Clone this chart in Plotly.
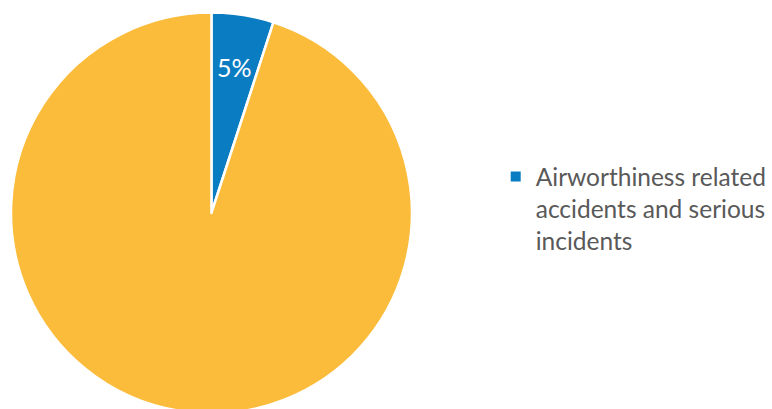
import math
import plotly.graph_objects as go

labels = ["Airworthiness related accidents and serious incidents", "Other accidents and serious incidents"]
values = [5, 95]
colors = ["#0A7CC1", "#FBBC3B"]
legend_label = "Airworthiness related<br>accidents and serious<br>incidents"

W, H = 772, 416
FONT = "Lato, 'Open Sans', sans-serif"

# pie domain (paper fractions)
dx = [11 / W, 413 / W]
dy = [2 / H, 1 - 12 / H]

fig = go.Figure()
fig.add_trace(go.Pie(
    labels=labels,
    values=values,
    sort=False,
    direction="clockwise",
    rotation=0,
    marker=dict(colors=colors, line=dict(color="white", width=2.5)),
    textinfo="none",
    showlegend=False,
    hoverinfo="label+percent",
    domain=dict(x=dx, y=dy),
))

# percentage label of the first slice, placed along its mid-angle
total = sum(values)
theta = 2 * math.pi * (values[0] / 2) / total
R = min((dx[1] - dx[0]) * W, (dy[1] - dy[0]) * H) / 2
cx = (dx[0] + dx[1]) / 2 * W
cy = (dy[0] + dy[1]) / 2 * H
rr = 0.735 * R
fig.add_annotation(
    x=(cx + rr * math.sin(theta)) / W, y=(cy + rr * math.cos(theta)) / H,
    xref="paper", yref="paper", xanchor="center", yanchor="middle",
    showarrow=False,
    text=f"{round(100 * values[0] / total)}%",
    font=dict(color="white", size=25, family=FONT),
)

fig.add_trace(go.Scatter(
    x=[None], y=[None], mode="markers",
    marker=dict(symbol="square", size=10, color=colors[0]),
    name=legend_label, showlegend=True,
))
fig.update_layout(
    width=W, height=H,
    margin=dict(l=0, r=0, t=0, b=0),
    paper_bgcolor="white", plot_bgcolor="white",
    xaxis=dict(visible=False), yaxis=dict(visible=False),
    legend=dict(
        x=497 / W, y=1 - 154 / H, xanchor="left", yanchor="top",
        valign="top",
        font=dict(size=24.5, color="#595959", family=FONT),
        bgcolor="rgba(0,0,0,0)",
    ),
)
fig.write_html(
    "out.html",
    config={"displayModeBar": False},
    post_script="document.body.style.margin='0';document.body.style.overflow='hidden';document.documentElement.style.overflow='hidden';",
)
